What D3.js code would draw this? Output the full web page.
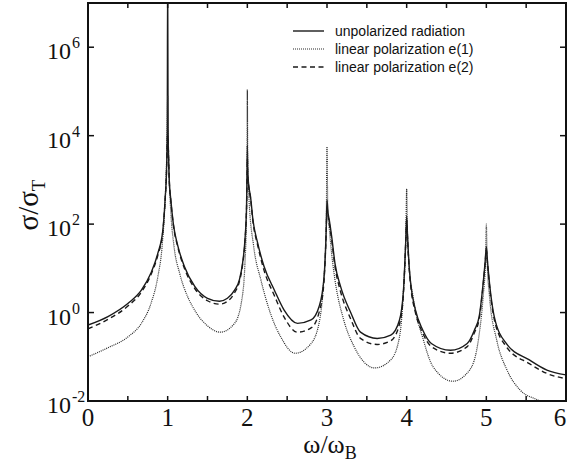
<!DOCTYPE html>
<html>
<head>
<meta charset="utf-8">
<script src="https://cdn.jsdelivr.net/npm/d3@7"></script>
<style>
  body { margin: 0; background: #fff; }
  text { fill: #111; }
</style>
</head>
<body>
<svg id="chart" width="568" height="463"></svg>
<script>
// tick values
const xTicks = [0, 1, 2, 3, 4, 5, 6];
const xMinorTicks = [0.5, 1.5, 2.5, 3.5, 4.5, 5.5];
const yTickExps = [-2, 0, 2, 4, 6];

const seriesNames = ["unpolarized radiation", "linear polarization e(1)", "linear polarization e(2)"];

// [omega/omega_B, sigma/sigma_T]
const unpolarized = [
    [0, 0.52], [0.25, 0.81], [0.5, 1.6], [0.67, 3.2], [0.79, 7.8], [0.877, 22], [0.94, 74],
    [0.97, 420], [0.985, 1500], [0.995, 1.5e4], [1.0, 5e7], [1.005, 1.5e4], [1.02, 1000],
    [1.04, 350], [1.07, 105], [1.13, 31], [1.21, 11], [1.34, 3.9], [1.5, 2.1], [1.65, 1.8],
    [1.75, 2.1], [1.84, 3.2], [1.9, 5.5], [1.94, 13], [1.97, 44], [1.99, 250], [1.997, 1500],
    [2.0, 6000], [2.005, 1500], [2.02, 700], [2.04, 420], [2.07, 126], [2.13, 37], [2.21, 11],
    [2.34, 3.2], [2.46, 1.15], [2.63, 0.57], [2.8, 0.68], [2.9, 1.35], [2.96, 5.5],
    [2.99, 74], [3.0, 350], [3.01, 200], [3.03, 120], [3.06, 50], [3.1, 13], [3.17, 3.9],
    [3.3, 0.98], [3.42, 0.36], [3.63, 0.26], [3.8, 0.31], [3.91, 0.68], [3.96, 3.2],
    [3.99, 50], [4.0, 150], [4.01, 60], [4.03, 12], [4.05, 4.6], [4.11, 1.15], [4.2, 0.41],
    [4.31, 0.2], [4.55, 0.14], [4.76, 0.2], [4.85, 0.4], [4.91, 0.81], [4.96, 4.6],
    [4.985, 14], [5.0, 31], [5.015, 14], [5.04, 4.6], [5.1, 0.8], [5.25, 0.2],
    [5.54, 0.085], [5.76, 0.05], [6.0, 0.039]
];

const polarE1 = [
    [0, 0.1], [0.25, 0.16], [0.5, 0.28], [0.67, 0.57], [0.79, 1.6], [0.877, 6.5], [0.93, 31],
    [0.96, 180], [0.98, 1000], [0.993, 1e4], [1.0, 8e4], [1.007, 1e4], [1.02, 1000],
    [1.04, 180], [1.08, 31], [1.15, 7.8], [1.25, 2.3], [1.33, 1.2], [1.5, 0.5], [1.66, 0.36],
    [1.84, 0.57], [1.93, 1.9], [1.97, 13], [1.99, 180], [1.996, 3000], [2.0, 1.1e5],
    [2.005, 3000], [2.02, 400], [2.08, 31], [2.17, 5.5], [2.29, 0.96], [2.42, 0.28],
    [2.6, 0.12], [2.79, 0.19], [2.9, 0.57], [2.95, 3.2], [2.99, 74], [3.0, 5600],
    [3.01, 200], [3.03, 74], [3.06, 20], [3.1, 5.5], [3.21, 0.68], [3.34, 0.17],
    [3.6, 0.056], [3.8, 0.085], [3.91, 0.28], [3.96, 3.2], [3.99, 60], [4.0, 630],
    [4.01, 60], [4.03, 12], [4.08, 2.3], [4.21, 0.24], [4.33, 0.06], [4.58, 0.028],
    [4.79, 0.05], [4.9, 0.24], [4.96, 2.3], [4.99, 15], [5.0, 100], [5.01, 15], [5.04, 2.3],
    [5.13, 0.24], [5.26, 0.05], [5.42, 0.018], [5.67, 0.01], [6.0, 0.004]
];

const polarE2 = [
    [0, 0.43], [0.25, 0.7], [0.5, 1.4], [0.67, 2.9], [0.79, 7.2], [0.877, 20], [0.94, 70],
    [0.97, 400], [0.985, 1400], [0.995, 7000], [1.0, 1e4], [1.005, 7000], [1.02, 950],
    [1.04, 330], [1.07, 100], [1.13, 29], [1.21, 10], [1.34, 3.5], [1.5, 1.85], [1.65, 1.55],
    [1.75, 1.8], [1.84, 2.8], [1.9, 5], [1.94, 12], [1.97, 40], [1.99, 230], [1.997, 1300],
    [2.0, 3000], [2.005, 1300], [2.02, 650], [2.04, 380], [2.07, 115], [2.13, 33], [2.21, 9],
    [2.34, 2.4], [2.46, 0.8], [2.63, 0.36], [2.8, 0.45], [2.9, 1.0], [2.96, 4.5],
    [2.99, 65], [3.0, 250], [3.01, 170], [3.03, 100], [3.06, 42], [3.1, 11], [3.17, 3.0],
    [3.3, 0.7], [3.42, 0.26], [3.63, 0.19], [3.8, 0.23], [3.91, 0.55], [3.96, 2.8],
    [3.99, 45], [4.0, 120], [4.01, 52], [4.03, 11], [4.05, 4.1], [4.11, 1.0], [4.2, 0.35],
    [4.31, 0.17], [4.55, 0.12], [4.76, 0.17], [4.85, 0.35], [4.91, 0.72], [4.96, 4.2],
    [4.985, 13], [5.0, 26], [5.015, 13], [5.04, 4.1], [5.1, 0.7], [5.25, 0.17],
    [5.54, 0.07], [5.76, 0.042], [6.0, 0.032]
];

const svg = d3.select("#chart");
const plot = { left: 88, right: 566, top: 3, bottom: 401 };

const x = d3.scaleLinear().domain([0, 6]).range([plot.left, plot.right]);
const y = d3.scaleLog().domain([1e-2, 1e7]).range([plot.bottom, plot.top]);

svg.append("defs").append("clipPath").attr("id", "clip")
   .append("rect")
   .attr("x", plot.left).attr("y", plot.top)
   .attr("width", plot.right - plot.left).attr("height", plot.bottom - plot.top);

const line = d3.line()
               .x(d => x(d[0]))
               .y(d => y(d[1]))
               .curve(d3.curveMonotoneX);

const styles = [
    { data: unpolarized, width: 1.4, dash: null, colour: "#1a1a1a" },
    { data: polarE1, width: 1.2, dash: "1,1", colour: "#2a2a2a" },
    { data: polarE2, width: 1.4, dash: "5,3.5", colour: "#1a1a1a" }
];

const lines = svg.append("g").attr("clip-path", "url(#clip)");
styles.forEach(s => {
    lines.append("path")
         .datum(s.data)
         .attr("fill", "none")
         .attr("stroke", s.colour)
         .attr("stroke-width", s.width)
         .attr("stroke-dasharray", s.dash)
         .attr("d", line);
});

// ticks (inward, mirrored on top and right)
const ticks = svg.append("g").attr("stroke", "#111").attr("stroke-width", 1.5);
xTicks.concat(xMinorTicks).forEach(t => {
    ticks.append("line").attr("x1", x(t)).attr("x2", x(t)).attr("y1", plot.bottom).attr("y2", plot.bottom - 5);
    ticks.append("line").attr("x1", x(t)).attr("x2", x(t)).attr("y1", plot.top).attr("y2", plot.top + 5);
});
yTickExps.forEach(e => {
    const v = Math.pow(10, e);
    ticks.append("line").attr("x1", plot.left).attr("x2", plot.left + 6).attr("y1", y(v)).attr("y2", y(v));
    ticks.append("line").attr("x1", plot.right).attr("x2", plot.right - 6).attr("y1", y(v)).attr("y2", y(v));
});

// frame
svg.append("rect")
   .attr("x", plot.left).attr("y", plot.top)
   .attr("width", plot.right - plot.left).attr("height", plot.bottom - plot.top)
   .attr("fill", "none").attr("stroke", "#111").attr("stroke-width", 2);

const serif = "'Liberation Serif', 'DejaVu Serif', serif";

// x tick labels (last one nudged in so it is not cut by the edge)
svg.append("g").selectAll("text")
   .data(xTicks)
   .join("text")
   .attr("x", d => Math.min(x(d), 560))
   .attr("y", 426)
   .attr("text-anchor", "middle")
   .style("font-family", serif)
   .style("font-size", "25px")
   .text(d => d);

// y tick labels as 10^n
const yLabels = svg.append("g").style("font-family", serif);
yTickExps.forEach(e => {
    const yy = y(Math.pow(10, e));
    yLabels.append("text")
           .attr("x", 71).attr("y", yy + 12)
           .attr("text-anchor", "end")
           .style("font-size", "24px")
           .text("10");
    yLabels.append("text")
           .attr("x", 72).attr("y", yy + 1)
           .style("font-size", "16px")
           .text(e);
});

// axis titles
svg.append("text")
   .attr("x", 330).attr("y", 453)
   .attr("text-anchor", "middle")
   .style("font-family", serif)
   .style("font-size", "26px")
   .text("ω/ω")
   .append("tspan").attr("dy", 6).style("font-size", "18px").text("B");

svg.append("text")
   .attr("transform", "translate(38,205) rotate(-90)")
   .attr("text-anchor", "middle")
   .style("font-family", serif)
   .style("font-size", "29px")
   .text("σ/σ")
   .append("tspan").attr("dy", 7).style("font-size", "19px").text("T");

// legend
const legend = svg.append("g").attr("class", "legend");
styles.forEach((s, i) => {
    const ly = 31 + i * 18;
    legend.append("line")
          .attr("x1", 293).attr("x2", 324).attr("y1", ly).attr("y2", ly)
          .attr("stroke", s.colour)
          .attr("stroke-width", s.width)
          .attr("stroke-dasharray", s.dash);
    legend.append("text")
          .attr("x", 335).attr("y", ly + 4.5)
          .style("font-family", "'Liberation Sans', Arial, sans-serif")
          .style("font-size", "14px")
          .text(seriesNames[i]);
});
</script>
</body>
</html>
